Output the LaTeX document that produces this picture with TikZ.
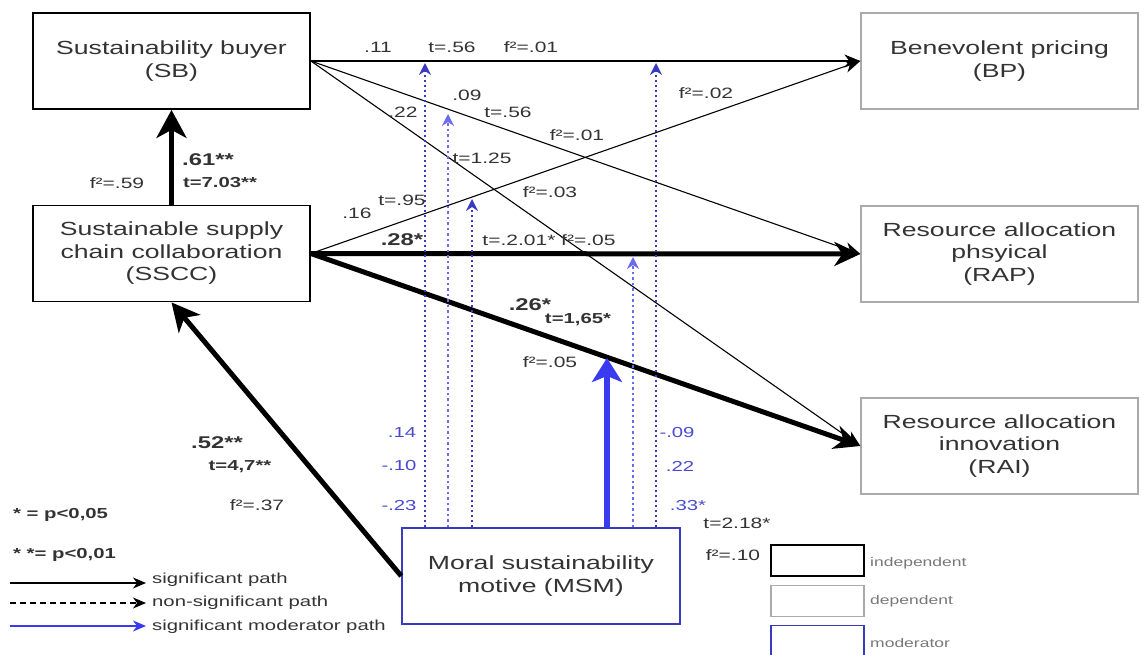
\documentclass[tikz,border=0pt]{standalone}
\usepackage{fontspec}
\setmainfont{Liberation Sans}[FakeStretch=1.4]
\usetikzlibrary{arrows.meta}
\definecolor{txt}{HTML}{333333}
\definecolor{dep}{HTML}{AAAAAA}
\definecolor{modb}{HTML}{3A3AC0}
\definecolor{modl}{HTML}{6A6AF0}
\definecolor{lblb}{HTML}{4A4AD0}
\definecolor{modthk}{HTML}{3A3AEE}
\definecolor{leg}{HTML}{777777}
\begin{document}
\begin{tikzpicture}[x=1pt,y=-1pt,
 box/.style={draw, minimum width=277pt, minimum height=96pt, inner sep=0pt, align=center, font=\fontsize{19}{22.5}\selectfont, text=txt},
 indep/.style={box, line width=1.8pt, draw=black},
 depd/.style={box, line width=1.3pt, draw=dep},
 moder/.style={box, line width=1.5pt, draw=modb},
 thinarr/.style={line width=1.1pt, -{Stealth[length=16pt,width=13pt,inset=5pt]}},
 thickarr/.style={line width=5pt, -{Stealth[length=26pt,width=24pt,inset=8pt]}},
 dotm/.style={draw=modb, line width=1.9pt, dash pattern=on 2.5pt off 2.5pt, -{Stealth[length=12pt,width=12pt,inset=4pt]}},
 dotl/.style={draw=modl, line width=2.3pt, dash pattern=on 2.5pt off 3pt, -{Stealth[length=12pt,width=12pt,inset=4pt]}},
 modthick/.style={draw=modthk, line width=6pt, -{Stealth[length=24pt,width=30pt,inset=6pt]}},
 lbl/.style={font=\fontsize{15}{17}\selectfont, text=txt, inner sep=0pt},
 blbl/.style={font=\bfseries\fontsize{17}{19}\selectfont, text=txt, inner sep=0pt},
 sblbl/.style={font=\bfseries\fontsize{14.5}{17}\selectfont, text=txt, inner sep=0pt},
 mlbl/.style={font=\fontsize{14.5}{17}\selectfont, text=lblb, inner sep=0pt},
 legtxt/.style={font=\fontsize{14.5}{17}\selectfont, text=txt, inner sep=0pt, anchor=west},
 legbox/.style={draw, minimum width=93pt, minimum height=31pt, inner sep=0pt},
 legsmall/.style={font=\fontsize{12.5}{14}\selectfont, text=leg, inner sep=0pt, anchor=west},
 legarr/.style={line width=1.1pt, -{Stealth[length=13pt,width=11pt,inset=4pt]}},
]
\useasboundingbox (0,0) rectangle (1144,655);

% boxes
\node[indep] (sb) at (171.5,61) {Sustainability buyer\\(SB)};
\node[indep] (sscc) at (171.5,253.5) {Sustainable supply\\chain collaboration\\(SSCC)};
\node[depd] (bp) at (999.5,61) {Benevolent pricing\\(BP)};
\node[depd] (rap) at (999.5,254) {Resource allocation\\phsyical\\(RAP)};
\node[depd] (rai) at (999.5,446) {Resource allocation\\innovation\\(RAI)};
\node[moder, minimum width=278pt] (msm) at (541,576) {Moral sustainability\\motive (MSM)};

% paths
\draw[thinarr] (sb.east) -- (bp.west);
\draw[thinarr] (sb.east) -- (rap.west);
\draw[thinarr] (sb.east) -- (rai.west);
\draw[thinarr] (sscc.east) -- (bp.west);
\draw[thickarr] (sscc.east) -- (rap.west);
\draw[thickarr] (sscc.east) -- (rai.west);
\draw[thickarr, -{Stealth[length=28pt,width=30pt,inset=8pt]}] (sscc.north) -- (sb.south);
\draw[thickarr, -{Stealth[length=28pt,width=28pt,inset=8pt]}] (msm.west) -- (sscc.south);

% moderator paths
\coordinate (t1) at (425,63);
\coordinate (t2) at (448,114);
\coordinate (t3) at (472,199);
\coordinate (t4) at (656,63);
\coordinate (t5) at (633,257);
\coordinate (t6) at (607,358);
\draw[dotm] (msm.north -| t1) -- (t1);
\draw[dotl] (msm.north -| t2) -- (t2);
\draw[dotm] (msm.north -| t3) -- (t3);
\draw[dotm] (msm.north -| t4) -- (t4);
\draw[dotl] (msm.north -| t5) -- (t5);
\draw[modthick] (msm.north -| t6) -- (t6);

% path labels
\node[lbl] (a1) at (378,47) {.11};
\node[lbl] (a2) at (452,47) {t=.56};
\node[lbl] (a3) at (531,47) {f²=.01};
\node[lbl] (b1) at (467,95) {.09};
\node[lbl] (c1) at (403,112) {.22};
\node[lbl] (b2) at (508,112) {t=.56};
\node[lbl] (b3) at (577,135) {f²=.01};
\node[lbl] (c2) at (482,158) {t=1.25};
\node[lbl] (c3) at (550,192) {f²=.03};
\node[lbl] (d2) at (402,200) {t=.95};
\node[lbl] (d1) at (357,213) {.16};
\node[lbl] (d3) at (706,93) {f²=.02};
\node[blbl] (e1) at (402,240) {.28*};
\node[lbl] (e2) at (549,240) {t=.2.01* f²=.05};
\node[blbl] (g1) at (530,305) {.26*};
\node[sblbl] (g2) at (578,320) {t=1,65*};
\node[lbl] (g3) at (550,362) {f²=.05};
\node[blbl] (h1) at (208,160) {.61**};
\node[sblbl] (h2) at (220,183) {t=7.03**};
\node[lbl] (h3) at (117,183) {f²=.59};
\node[blbl] (k1) at (217,443) {.52**};
\node[sblbl] (k2) at (240,467) {t=4,7**};
\node[lbl] (k3) at (257,505) {f²=.37};

% moderator labels
\node[mlbl] (m1) at (402,433) {.14};
\node[mlbl] (m2) at (399,466) {-.10};
\node[mlbl] (m3) at (399,506) {-.23};
\node[mlbl] (m4) at (677,433) {-.09};
\node[mlbl] (m5) at (680,466) {.22};
\node[mlbl] (m6) at (688,506) {.33*};
\node[lbl] (m7) at (737,523) {t=2.18*};
\node[lbl] (m8) at (733,555) {f²=.10};

% legend
\node[sblbl, anchor=west] (p1) at (13,515) {* = p<0,05};
\node[sblbl, anchor=west] (p2) at (13,555) {* *= p<0,01};
\coordinate (s1) at (10,583);
\coordinate (s2) at (146,583);
\coordinate (n1) at (10,603);
\coordinate (n2) at (146,603);
\coordinate (q1) at (10,626);
\coordinate (q2) at (146,626);
\draw[legarr] (s1) -- (s2);
\draw[legarr, dash pattern=on 6pt off 4pt] (n1) -- (n2);
\draw[legarr, draw=modthk, fill=modthk] (q1) -- (q2);
\node[legtxt] (r1) at (152,580) {significant path};
\node[legtxt] (r2) at (152,603) {non-significant path};
\node[legtxt] (r3) at (152,627) {significant moderator path};

\node[legbox, line width=1.8pt, draw=black] (li) at (817.5,560.5) {};
\node[legbox, line width=1.3pt, draw=dep] (ld) at (817.5,601) {};
\node[legbox, line width=1.5pt, draw=modb] (lm) at (817.5,641) {};
\node[legsmall] (x1) at (870,563) {independent};
\node[legsmall] (x2) at (870,601) {dependent};
\node[legsmall] (x3) at (870,643) {moderator};
\end{tikzpicture}
\end{document}
